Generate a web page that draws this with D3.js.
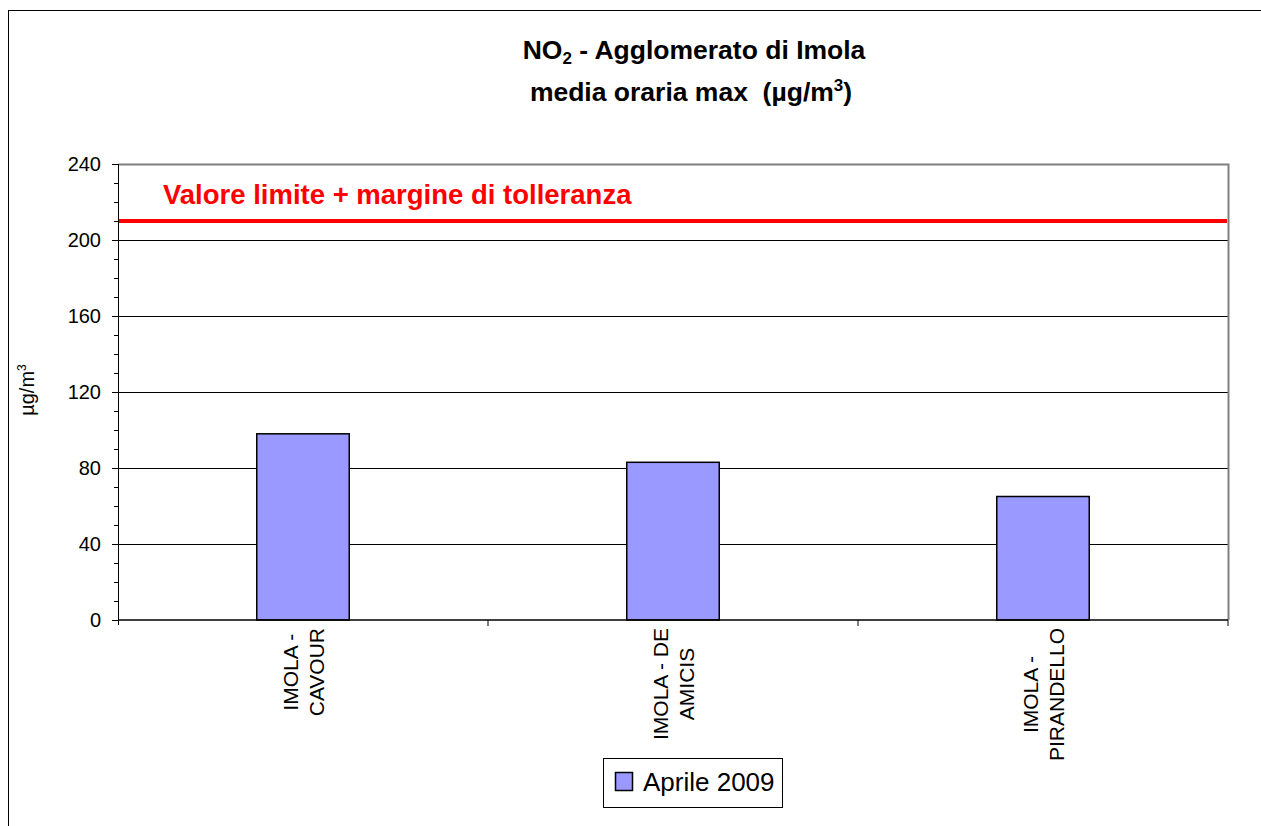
<!DOCTYPE html>
<meta charset="utf-8">
<style>
body { margin: 0; background: #fff; }
svg { display: block; }
text { font-family: "Liberation Sans", Arial, sans-serif; fill: #000; }
.axis path, .axis line { stroke: #000; }
.axis text { font-size: 20px; }
.grid line { stroke: #000; }
.grid path { display: none; }
</style>
<body>
<svg width="1261" height="826"></svg>
<script src="https://cdn.jsdelivr.net/npm/d3@7"></script>
<script>
var stations = [["IMOLA -", "CAVOUR"], ["IMOLA - DE", "AMICIS"], ["IMOLA -", "PIRANDELLO"]];
var values = [98, 83, 65];
var limitValue = 210;
var yTicks = [0, 40, 80, 120, 160, 200, 240];
var seriesName = "Aprile 2009";

var svg = d3.select("svg"),
    pLeft = 118, pRight = 1228, pTop = 164, pBottom = 620;

// outer chart frame (cut at right and bottom like the source)
svg.append("rect")
    .attr("x", 8.5).attr("y", 10.5)
    .attr("width", 1400).attr("height", 1000)
    .attr("fill", "none").attr("stroke", "#000");

var x = d3.scaleBand().domain(d3.range(stations.length)).range([pLeft, pRight]);
var y = d3.scaleLinear().domain([0, 240]).range([pBottom, pTop]);

// gridlines
svg.append("g")
    .attr("class", "grid")
    .attr("transform", "translate(" + pLeft + ",0)")
    .call(d3.axisLeft(y).tickValues([40, 80, 120, 160, 200]).tickSize(-(pRight - pLeft)).tickFormat(""));

// plot border top/right
svg.append("path")
    .attr("d", "M" + pLeft + "," + (pTop + 0.5) + "H" + (pRight + 0.5) + "V" + pBottom)
    .attr("fill", "none").attr("stroke", "#808080").attr("stroke-width", 2);

// bars
var bw = x.bandwidth() * 0.25;
svg.selectAll(".bar")
    .data(values)
    .enter().append("rect")
    .attr("class", "bar")
    .attr("x", function(d, i) { return x(i) + (x.bandwidth() - bw) / 2; })
    .attr("y", function(d) { return y(d); })
    .attr("width", bw)
    .attr("height", function(d) { return y(0) - y(d); })
    .attr("fill", "#9999ff")
    .attr("stroke", "#000")
    .attr("stroke-width", 1.5);

// limit line
svg.append("line")
    .attr("x1", pLeft).attr("x2", pRight - 1)
    .attr("y1", y(limitValue)).attr("y2", y(limitValue))
    .attr("stroke", "#ff0000").attr("stroke-width", 4);

svg.append("text")
    .attr("x", 163).attr("y", 204)
    .style("fill", "#ff0000")
    .style("font-size", "27.5px").style("font-weight", "bold")
    .text("Valore limite + margine di tolleranza");

// y axis: minor ticks every 10, labels every 40
svg.append("g")
    .attr("class", "axis")
    .attr("transform", "translate(" + pLeft + ",0)")
    .call(d3.axisLeft(y).tickValues(d3.range(0, 241, 10)).tickSize(4).tickFormat(""))
    .call(function(g) { g.select(".domain").remove(); });

var yAxis = svg.append("g")
    .attr("class", "axis")
    .attr("transform", "translate(" + pLeft + ",0)")
    .call(d3.axisLeft(y).tickValues(yTicks).tickSize(6).tickPadding(11).tickFormat(d3.format("d")));
yAxis.select(".domain").attr("d", "M0.5," + pTop + "V" + (pBottom + 5));

// x axis line and category separators
var xAxis = svg.append("g")
    .attr("class", "axis")
    .attr("transform", "translate(0," + pBottom + ")");
xAxis.append("line").attr("x1", pLeft).attr("x2", pRight).attr("stroke", "#000").attr("stroke-width", 1.5);
xAxis.selectAll(".sep")
    .data(d3.range(1, stations.length + 1))
    .enter().append("line")
    .attr("x1", function(i) { return i < stations.length ? x(i) : pRight; })
    .attr("x2", function(i) { return i < stations.length ? x(i) : pRight; })
    .attr("y1", 0).attr("y2", 6)
    .attr("stroke", "#000");

// rotated category labels, lines centred on each other
stations.forEach(function(lines, i) {
    var cx = x(i) + x.bandwidth() / 2;
    var t = svg.append("text")
        .style("font-size", "21px")
        .attr("text-anchor", "middle");
    lines.forEach(function(s, j) {
        t.append("tspan").attr("x", 0).attr("y", (j - (lines.length - 1) / 2) * 26 + 7.5).text(s);
    });
    var longest = d3.max(t.selectAll("tspan").nodes(), function(n) { return n.getComputedTextLength(); });
    t.attr("transform", "translate(" + cx + "," + (pBottom + 8 + longest / 2) + ") rotate(-90)");
});

// y axis title
svg.append("text")
    .attr("transform", "translate(34,390) rotate(-90)")
    .attr("text-anchor", "middle")
    .style("font-size", "20px")
    .html('µg/m<tspan dy="-8" font-size="12px">3</tspan>');

// title
var title = svg.append("text")
    .attr("text-anchor", "middle")
    .style("font-size", "26.5px").style("font-weight", "bold")
    .attr("xml:space", "preserve");
title.append("tspan").attr("x", 694).attr("y", 59)
    .html('NO<tspan dy="5" font-size="17px">2</tspan><tspan dy="-5"> - Agglomerato di Imola</tspan>');
title.append("tspan").attr("x", 691).attr("y", 101)
    .html('media oraria max  (µg/m<tspan dy="-10" font-size="17px">3</tspan><tspan dy="10">)</tspan>');

// legend
var legend = svg.append("g");
legend.append("rect")
    .attr("x", 603.5).attr("y", 758.5).attr("width", 179).attr("height", 49)
    .attr("fill", "#fff").attr("stroke", "#000");
legend.append("rect")
    .attr("x", 615.5).attr("y", 772.5).attr("width", 17).attr("height", 18)
    .attr("fill", "#9999ff").attr("stroke", "#000").attr("stroke-width", 1.5);
legend.append("text")
    .attr("x", 643).attr("y", 791)
    .style("font-size", "26px")
    .text(seriesName);
</script>
</body>
